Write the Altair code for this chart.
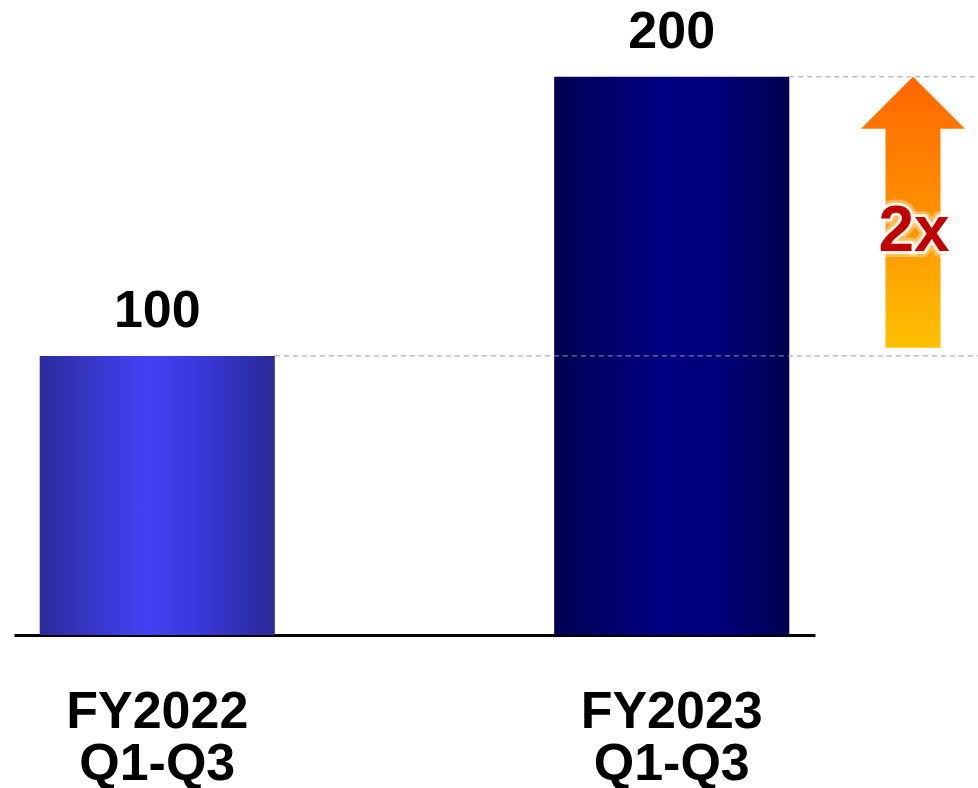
import altair as alt
import pandas as pd

# ---- data ----
categories = ["FY2022\nQ1-Q3", "FY2023\nQ1-Q3"]
values = [100, 200]
value_labels = ["100", "200"]
growth_label = "2x"
arrow_from = [103]
arrow_to = [200]

df = pd.DataFrame({"period": categories, "value": values, "label": value_labels})
arrow_df = pd.DataFrame({"from": arrow_from, "to": arrow_to, "label": [growth_label]})

FONT = "Liberation Sans"

x_enc = alt.X(
    "period:N",
    sort=categories,
    scale=alt.Scale(paddingInner=0.543, paddingOuter=0.05),
    axis=alt.Axis(
        title=None,
        labelExpr="split(datum.label, '\\n')",
        labelAngle=0,
        labelFont=FONT,
        labelFontSize=52,
        labelFontWeight="bold",
        labelColor="black",
        labelPadding=51,
        labelLineHeight=52,
        labelLimit=0,
        labelOverlap=False,
        ticks=False,
        tickSize=0,
        domainColor="black",
        domainWidth=3,
        grid=False,
    ),
)
y_enc = alt.Y("value:Q", scale=alt.Scale(domain=[0, 220]), axis=None)

grad1 = alt.Gradient(
    gradient="linear", x1=0, x2=1, y1=0, y2=0,
    stops=[
        alt.GradientStop(color="#2B2B9C", offset=0),
        alt.GradientStop(color="#4242F5", offset=0.45),
        alt.GradientStop(color="#3A3AE0", offset=0.65),
        alt.GradientStop(color="#2A2A98", offset=1),
    ],
)
grad2 = alt.Gradient(
    gradient="linear", x1=0, x2=1, y1=0, y2=0,
    stops=[
        alt.GradientStop(color="#000052", offset=0),
        alt.GradientStop(color="#000082", offset=0.45),
        alt.GradientStop(color="#00007A", offset=0.7),
        alt.GradientStop(color="#000050", offset=1),
    ],
)
arrow_grad = alt.Gradient(
    gradient="linear", x1=0, x2=0, y1=0, y2=1,
    stops=[
        alt.GradientStop(color="#FF6600", offset=0),
        alt.GradientStop(color="#FF8C00", offset=0.45),
        alt.GradientStop(color="#FFC000", offset=1),
    ],
)

base = alt.Chart(df)

bar1 = base.transform_filter(alt.datum.period == categories[0]).mark_bar(
    color=grad1
).encode(x=x_enc, y=y_enc)
bar2 = base.transform_filter(alt.datum.period == categories[1]).mark_bar(
    color=grad2
).encode(x=x_enc, y=y_enc)

labels = base.mark_text(
    font=FONT, fontSize=52, fontWeight="bold", color="black",
    baseline="alphabetic", dy=-29,
).encode(x=alt.X("period:N", sort=categories), y="value:Q", text="label:N")

guides = base.mark_rule(
    color="#999999", strokeWidth=1, strokeDash=[5, 4]
).encode(
    x=alt.X("period:N", sort=categories, bandPosition=1),
    x2=alt.value(964),
    y="value:Q",
)

arrow_path = (
    "M0,-1 L0.384,-0.616 L0.203,-0.616 L0.203,1 "
    "L-0.203,1 L-0.203,-0.616 L-0.384,-0.616 Z"
)
arrow_base = alt.Chart(arrow_df).transform_calculate(
    mid="(datum['from'] + datum['to']) / 2"
)
arrow = arrow_base.mark_point(
    shape=arrow_path, filled=True, fill=arrow_grad, opacity=1,
    strokeWidth=0, size=271 * 271,
).encode(x=alt.value(899), y=alt.Y("mid:Q"))

glow1 = arrow_base.mark_text(
    font=FONT, fontSize=64, fontWeight="bold", color="white",
    stroke="white", strokeWidth=12, strokeOpacity=0.35, strokeJoin="round",
    align="center", baseline="alphabetic", dy=39,
).encode(x=alt.value(900), y="mid:Q", text="label:N")
glow2 = arrow_base.mark_text(
    font=FONT, fontSize=64, fontWeight="bold", color="white",
    stroke="white", strokeWidth=6, strokeOpacity=0.8, strokeJoin="round",
    align="center", baseline="alphabetic", dy=39,
).encode(x=alt.value(900), y="mid:Q", text="label:N")
txt = arrow_base.mark_text(
    font=FONT, fontSize=64, fontWeight="bold", color="#C00000",
    align="center", baseline="alphabetic", dy=39,
).encode(x=alt.value(900), y="mid:Q", text="label:N")

chart = alt.layer(
    bar1, bar2, guides, labels, arrow, glow1, glow2, txt
).properties(
    width=801,
    height=614,
    padding={"left": 14, "top": 21, "right": 163, "bottom": 153},
    autosize=alt.AutoSizeParams(type="none"),
).configure_view(stroke=None)

chart.save("out.html", embed_options={"renderer": "svg", "actions": False})
